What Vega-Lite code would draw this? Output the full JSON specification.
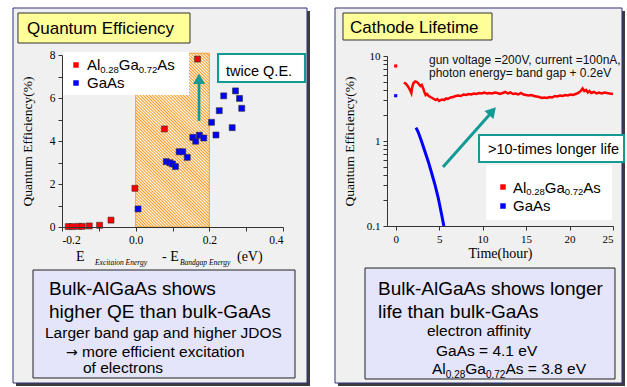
{
"$schema":"https://vega.github.io/schema/vega-lite/v6.json",
"width":627,"height":387,"autosize":{"type":"none"},"padding":0,"background":"white",
"config":{"view":{"stroke":null},
 "axis":{"grid":false,"labelFont":"Liberation Serif","titleFont":"Liberation Serif","titleFontWeight":"normal","titleFontSize":13.5,"labelFontSize":11,"labelColor":"#000","titleColor":"#000","domainColor":"#333","tickColor":"#333","tickSize":4,"labelPadding":3,"labelOverlap":false}},
"layer":[
{
 "encoding":{
  "x":{"field":"x","type":"quantitative","scale":{"domain":[-0.2,0.4],"range":[62,283],"nice":false,"zero":false},
   "axis":{"orient":"bottom","offset":-160,"zindex":1,"values":[-0.2,-0.1,0,0.1,0.2,0.3,0.4],"labelExpr":"abs(round(datum.value*10))%2==0 ? replace(format(datum.value,'.1f'),'\u2212','-') : ''","title":null,"labelFontSize":11.5}},
  "y":{"field":"y","type":"quantitative","scale":{"domain":[0,8],"range":[227,55],"nice":false,"zero":false},
   "axis":{"orient":"left","offset":-62,"zindex":1,"values":[0,1,2,3,4,5,6,7,8],"labelExpr":"datum.value%2==0 ? datum.label : ''","title":"Quantum Efficiency(%)","titlePadding":15,"labelFontSize":11.5}}
 },
 "layer":[
  {"data":{"values":[{"x":-0.3249,"x2":0.4733,"y":10.047,"y2":-7.395}]},"mark":{"type":"rect","fill":"#3c3c3c"},"encoding":{"x2":{"field":"x2"},"y2":{"field":"y2"}}},
  {"data":{"values":[{"x":-0.333,"x2":0.4652,"y":10.186,"y2":-7.256}]},"mark":{"type":"rect","fill":"#f0f0f0","stroke":"#33337a","strokeWidth":1},"encoding":{"x2":{"field":"x2"},"y2":{"field":"y2"}}},
  {"data":{"values":[{"x":-0.3195,"x2":0.1475,"y":9.953,"y2":8.558}]},"mark":{"type":"rect","fill":"#ffff99","stroke":"#333","strokeWidth":1},"encoding":{"x2":{"field":"x2"},"y2":{"field":"y2"}}},
  {"data":{"values":[{"x":-0.295,"y":8.977,"t":"Quantum Efficiency"}]},"mark":{"type":"text","align":"left","baseline":"alphabetic","font":"Liberation Sans","fontSize":17,"color":"#000"},"encoding":{"text":{"field":"t"}}},
  {"data":{"values":[{"x":0,"x2":0.2,"y":0,"y2":8.08}]},"mark":{"type":"rect","stroke":"#f5a030","strokeWidth":1,
    "fill":{"gradient":"linear","x1":0,"y1":1,"x2":0.512,"y2":-0.207,"stops":[
{"offset":0,"color":"#f59a22"},{"offset":0.00625,"color":"#fff"},{"offset":0.0125,"color":"#f59a22"},{"offset":0.01875,"color":"#fff"},{"offset":0.025,"color":"#f59a22"},{"offset":0.03125,"color":"#fff"},{"offset":0.0375,"color":"#f59a22"},{"offset":0.04375,"color":"#fff"},
{"offset":0.05,"color":"#f59a22"},{"offset":0.05625,"color":"#fff"},{"offset":0.0625,"color":"#f59a22"},{"offset":0.06875,"color":"#fff"},{"offset":0.075,"color":"#f59a22"},{"offset":0.08125,"color":"#fff"},{"offset":0.0875,"color":"#f59a22"},{"offset":0.09375,"color":"#fff"},
{"offset":0.1,"color":"#f59a22"},{"offset":0.10625,"color":"#fff"},{"offset":0.1125,"color":"#f59a22"},{"offset":0.11875,"color":"#fff"},{"offset":0.125,"color":"#f59a22"},{"offset":0.13125,"color":"#fff"},{"offset":0.1375,"color":"#f59a22"},{"offset":0.14375,"color":"#fff"},
{"offset":0.15,"color":"#f59a22"},{"offset":0.15625,"color":"#fff"},{"offset":0.1625,"color":"#f59a22"},{"offset":0.16875,"color":"#fff"},{"offset":0.175,"color":"#f59a22"},{"offset":0.18125,"color":"#fff"},{"offset":0.1875,"color":"#f59a22"},{"offset":0.19375,"color":"#fff"},
{"offset":0.2,"color":"#f59a22"},{"offset":0.20625,"color":"#fff"},{"offset":0.2125,"color":"#f59a22"},{"offset":0.21875,"color":"#fff"},{"offset":0.225,"color":"#f59a22"},{"offset":0.23125,"color":"#fff"},{"offset":0.2375,"color":"#f59a22"},{"offset":0.24375,"color":"#fff"},
{"offset":0.25,"color":"#f59a22"},{"offset":0.25625,"color":"#fff"},{"offset":0.2625,"color":"#f59a22"},{"offset":0.26875,"color":"#fff"},{"offset":0.275,"color":"#f59a22"},{"offset":0.28125,"color":"#fff"},{"offset":0.2875,"color":"#f59a22"},{"offset":0.29375,"color":"#fff"},
{"offset":0.3,"color":"#f59a22"},{"offset":0.30625,"color":"#fff"},{"offset":0.3125,"color":"#f59a22"},{"offset":0.31875,"color":"#fff"},{"offset":0.325,"color":"#f59a22"},{"offset":0.33125,"color":"#fff"},{"offset":0.3375,"color":"#f59a22"},{"offset":0.34375,"color":"#fff"},
{"offset":0.35,"color":"#f59a22"},{"offset":0.35625,"color":"#fff"},{"offset":0.3625,"color":"#f59a22"},{"offset":0.36875,"color":"#fff"},{"offset":0.375,"color":"#f59a22"},{"offset":0.38125,"color":"#fff"},{"offset":0.3875,"color":"#f59a22"},{"offset":0.39375,"color":"#fff"},
{"offset":0.4,"color":"#f59a22"},{"offset":0.40625,"color":"#fff"},{"offset":0.4125,"color":"#f59a22"},{"offset":0.41875,"color":"#fff"},{"offset":0.425,"color":"#f59a22"},{"offset":0.43125,"color":"#fff"},{"offset":0.4375,"color":"#f59a22"},{"offset":0.44375,"color":"#fff"},
{"offset":0.45,"color":"#f59a22"},{"offset":0.45625,"color":"#fff"},{"offset":0.4625,"color":"#f59a22"},{"offset":0.46875,"color":"#fff"},{"offset":0.475,"color":"#f59a22"},{"offset":0.48125,"color":"#fff"},{"offset":0.4875,"color":"#f59a22"},{"offset":0.49375,"color":"#fff"},
{"offset":0.5,"color":"#f59a22"},{"offset":0.50625,"color":"#fff"},{"offset":0.5125,"color":"#f59a22"},{"offset":0.51875,"color":"#fff"},{"offset":0.525,"color":"#f59a22"},{"offset":0.53125,"color":"#fff"},{"offset":0.5375,"color":"#f59a22"},{"offset":0.54375,"color":"#fff"},
{"offset":0.55,"color":"#f59a22"},{"offset":0.55625,"color":"#fff"},{"offset":0.5625,"color":"#f59a22"},{"offset":0.56875,"color":"#fff"},{"offset":0.575,"color":"#f59a22"},{"offset":0.58125,"color":"#fff"},{"offset":0.5875,"color":"#f59a22"},{"offset":0.59375,"color":"#fff"},
{"offset":0.6,"color":"#f59a22"},{"offset":0.60625,"color":"#fff"},{"offset":0.6125,"color":"#f59a22"},{"offset":0.61875,"color":"#fff"},{"offset":0.625,"color":"#f59a22"},{"offset":0.63125,"color":"#fff"},{"offset":0.6375,"color":"#f59a22"},{"offset":0.64375,"color":"#fff"},
{"offset":0.65,"color":"#f59a22"},{"offset":0.65625,"color":"#fff"},{"offset":0.6625,"color":"#f59a22"},{"offset":0.66875,"color":"#fff"},{"offset":0.675,"color":"#f59a22"},{"offset":0.68125,"color":"#fff"},{"offset":0.6875,"color":"#f59a22"},{"offset":0.69375,"color":"#fff"},
{"offset":0.7,"color":"#f59a22"},{"offset":0.70625,"color":"#fff"},{"offset":0.7125,"color":"#f59a22"},{"offset":0.71875,"color":"#fff"},{"offset":0.725,"color":"#f59a22"},{"offset":0.73125,"color":"#fff"},{"offset":0.7375,"color":"#f59a22"},{"offset":0.74375,"color":"#fff"},
{"offset":0.75,"color":"#f59a22"},{"offset":0.75625,"color":"#fff"},{"offset":0.7625,"color":"#f59a22"},{"offset":0.76875,"color":"#fff"},{"offset":0.775,"color":"#f59a22"},{"offset":0.78125,"color":"#fff"},{"offset":0.7875,"color":"#f59a22"},{"offset":0.79375,"color":"#fff"},
{"offset":0.8,"color":"#f59a22"},{"offset":0.80625,"color":"#fff"},{"offset":0.8125,"color":"#f59a22"},{"offset":0.81875,"color":"#fff"},{"offset":0.825,"color":"#f59a22"},{"offset":0.83125,"color":"#fff"},{"offset":0.8375,"color":"#f59a22"},{"offset":0.84375,"color":"#fff"},
{"offset":0.85,"color":"#f59a22"},{"offset":0.85625,"color":"#fff"},{"offset":0.8625,"color":"#f59a22"},{"offset":0.86875,"color":"#fff"},{"offset":0.875,"color":"#f59a22"},{"offset":0.88125,"color":"#fff"},{"offset":0.8875,"color":"#f59a22"},{"offset":0.89375,"color":"#fff"},
{"offset":0.9,"color":"#f59a22"},{"offset":0.90625,"color":"#fff"},{"offset":0.9125,"color":"#f59a22"},{"offset":0.91875,"color":"#fff"},{"offset":0.925,"color":"#f59a22"},{"offset":0.93125,"color":"#fff"},{"offset":0.9375,"color":"#f59a22"},{"offset":0.94375,"color":"#fff"},
{"offset":0.95,"color":"#f59a22"},{"offset":0.95625,"color":"#fff"},{"offset":0.9625,"color":"#f59a22"},{"offset":0.96875,"color":"#fff"},{"offset":0.975,"color":"#f59a22"},{"offset":0.98125,"color":"#fff"},{"offset":0.9875,"color":"#f59a22"},{"offset":0.99375,"color":"#fff"},
{"offset":1,"color":"#f59a22"}]}},
   "encoding":{"x2":{"field":"x2"},"y2":{"field":"y2"}}},
  {"data":{"values":[
   {"x":-0.183,"y":0.02,"s":"AlGaAs"},{"x":-0.172,"y":0.02,"s":"AlGaAs"},{"x":-0.155,"y":0.03,"s":"AlGaAs"},{"x":-0.145,"y":0.03,"s":"AlGaAs"},{"x":-0.126,"y":0.05,"s":"AlGaAs"},{"x":-0.098,"y":0.08,"s":"AlGaAs"},{"x":-0.067,"y":0.32,"s":"AlGaAs"},{"x":-0.002,"y":1.8,"s":"AlGaAs"},{"x":0.078,"y":4.56,"s":"AlGaAs"},{"x":0.168,"y":7.81,"s":"AlGaAs"},
   {"x":0.0065,"y":0.84,"s":"GaAs"},{"x":0.083,"y":3.04,"s":"GaAs"},{"x":0.093,"y":2.99,"s":"GaAs"},{"x":0.1,"y":2.93,"s":"GaAs"},{"x":0.108,"y":2.81,"s":"GaAs"},{"x":0.118,"y":3.5,"s":"GaAs"},{"x":0.128,"y":3.5,"s":"GaAs"},{"x":0.14,"y":3.24,"s":"GaAs"},{"x":0.155,"y":4.17,"s":"GaAs"},{"x":0.163,"y":3.99,"s":"GaAs"},{"x":0.173,"y":4.27,"s":"GaAs"},{"x":0.185,"y":4.14,"s":"GaAs"},{"x":0.206,"y":4.87,"s":"GaAs"},{"x":0.218,"y":4.28,"s":"GaAs"},{"x":0.227,"y":5.41,"s":"GaAs"},{"x":0.239,"y":6.1,"s":"GaAs"},{"x":0.262,"y":4.62,"s":"GaAs"},{"x":0.271,"y":6.33,"s":"GaAs"},{"x":0.282,"y":5.98,"s":"GaAs"},{"x":0.288,"y":5.52,"s":"GaAs"}]},
   "mark":{"type":"point","shape":"square","filled":true,"size":36,"opacity":1,"stroke":"#333","strokeWidth":0.6},
   "encoding":{"color":{"field":"s","type":"nominal","scale":{"domain":["AlGaAs","GaAs"],"range":["#ff0000","#0000ff"]},"legend":null}}},
  {"data":{"values":[{"x":-0.1973,"x2":0.1448,"y":8.14,"y2":6.14}]},"mark":{"type":"rect","fill":"#ffffff"},"encoding":{"x2":{"field":"x2"},"y2":{"field":"y2"}}},
  {"data":{"values":[{"x":-0.162,"y":7.535,"s":"AlGaAs"},{"x":-0.162,"y":6.698,"s":"GaAs"}]},"mark":{"type":"point","shape":"square","filled":true,"size":30,"opacity":1},
   "encoding":{"color":{"field":"s","type":"nominal","legend":null}}},
  {"data":{"values":[{"x":-0.1321,"y":7.302,"t":"Al"},{"x":-0.1321,"y":6.451,"t":"GaAs"}]},"mark":{"type":"text","align":"left","baseline":"alphabetic","font":"Liberation Sans","fontSize":15,"color":"#000"},"encoding":{"text":{"field":"t"}}},
  {"data":{"values":[{"x":-0.1321,"y":7.302,"t":"0.28"}]},"mark":{"type":"text","align":"left","baseline":"alphabetic","font":"Liberation Sans","fontSize":9.5,"dx":13.3,"dy":3,"color":"#000"},"encoding":{"text":{"field":"t"}}},
  {"data":{"values":[{"x":-0.1321,"y":7.302,"t":"Ga"}]},"mark":{"type":"text","align":"left","baseline":"alphabetic","font":"Liberation Sans","fontSize":15,"dx":31.8,"color":"#000"},"encoding":{"text":{"field":"t"}}},
  {"data":{"values":[{"x":-0.1321,"y":7.302,"t":"0.72"}]},"mark":{"type":"text","align":"left","baseline":"alphabetic","font":"Liberation Sans","fontSize":9.5,"dx":51.8,"dy":3,"color":"#000"},"encoding":{"text":{"field":"t"}}},
  {"data":{"values":[{"x":-0.1321,"y":7.302,"t":"As"}]},"mark":{"type":"text","align":"left","baseline":"alphabetic","font":"Liberation Sans","fontSize":15,"dx":70.3,"color":"#000"},"encoding":{"text":{"field":"t"}}},
  {"data":{"values":[{"x":0.172,"y":4.93,"y2":6.744}]},"mark":{"type":"rule","color":"#139a94","strokeWidth":2.7},"encoding":{"y2":{"field":"y2"}}},
  {"data":{"values":[{"x":0.172,"y":6.888}]},"mark":{"type":"point","shape":"triangle-up","filled":true,"size":144,"color":"#139a94","opacity":1},"encoding":{}},
  {"data":{"values":[{"x":0.2235,"x2":0.4597,"y":8.047,"y2":6.744}]},"mark":{"type":"rect","fill":"#ffffff","stroke":"#139a94","strokeWidth":2},"encoding":{"x2":{"field":"x2"},"y2":{"field":"y2"}}},
  {"data":{"values":[{"x":0.2453,"y":7.023,"t":"twice Q.E."}]},"mark":{"type":"text","align":"left","baseline":"alphabetic","font":"Liberation Sans","fontSize":14.5,"color":"#000"},"encoding":{"text":{"field":"t"}}},
  {"data":{"values":[{"x":-0.162,"y":-1.581,"t":"E"}]},"mark":{"type":"text","align":"left","baseline":"alphabetic","font":"Liberation Serif","fontSize":14,"color":"#000"},"encoding":{"text":{"field":"t"}}},
  {"data":{"values":[{"x":-0.162,"y":-1.581,"t":"Excitaion Energy"}]},"mark":{"type":"text","align":"left","baseline":"alphabetic","font":"Liberation Serif","fontStyle":"italic","fontSize":7.5,"dx":19,"dy":4,"color":"#000"},"encoding":{"text":{"field":"t"}}},
  {"data":{"values":[{"x":-0.162,"y":-1.581,"t":"- E"}]},"mark":{"type":"text","align":"left","baseline":"alphabetic","font":"Liberation Serif","fontSize":14,"dx":86,"color":"#000"},"encoding":{"text":{"field":"t"}}},
  {"data":{"values":[{"x":-0.162,"y":-1.581,"t":"Bandgap Energy"}]},"mark":{"type":"text","align":"left","baseline":"alphabetic","font":"Liberation Serif","fontStyle":"italic","fontSize":7.5,"dx":104,"dy":4,"color":"#000"},"encoding":{"text":{"field":"t"}}},
  {"data":{"values":[{"x":-0.162,"y":-1.581,"t":"(eV)"}]},"mark":{"type":"text","align":"left","baseline":"alphabetic","font":"Liberation Serif","fontSize":14,"dx":161,"color":"#000"},"encoding":{"text":{"field":"t"}}},
  {"data":{"values":[{"x":-0.2787,"x2":0.4326,"y":-2.0,"y2":-7.023}]},"mark":{"type":"rect","fill":"#e4e4fa","stroke":"#222","strokeWidth":1},"encoding":{"x2":{"field":"x2"},"y2":{"field":"y2"}}},
  {"data":{"values":[{"x":-0.2353,"y":-3.163,"t":"Bulk-AlGaAs shows"},{"x":-0.2353,"y":-4.233,"t":"higher QE than bulk-GaAs"}]},"mark":{"type":"text","align":"left","baseline":"alphabetic","font":"Liberation Sans","fontSize":19,"color":"#000"},"encoding":{"text":{"field":"t"}}},
  {"data":{"values":[{"x":-0.2462,"y":-5.163,"t":"Larger band gap and higher JDOS"},{"x":-0.143,"y":-6.791,"t":"of electrons"}]},"mark":{"type":"text","align":"left","baseline":"alphabetic","font":"Liberation Sans","fontSize":15.5,"color":"#000"},"encoding":{"text":{"field":"t"}}},
  {"data":{"values":[{"x":-0.1891,"y":-6.033,"t":"→"}]},"mark":{"type":"text","align":"left","baseline":"alphabetic","font":"DejaVu Sans","fontSize":14,"color":"#000"},"encoding":{"text":{"field":"t"}}},
  {"data":{"values":[{"x":-0.1891,"y":-6.033,"t":"more efficient excitation"}]},"mark":{"type":"text","align":"left","baseline":"alphabetic","font":"Liberation Sans","fontSize":15.5,"dx":16,"color":"#000"},"encoding":{"text":{"field":"t"}}}
 ]
},
{
 "encoding":{
  "x":{"field":"x","type":"quantitative","scale":{"domain":[-1,25],"range":[387,613],"nice":false,"zero":false},
   "axis":{"orient":"bottom","offset":-161,"zindex":1,"values":[0,5,10,15,20,25],"format":"d","title":"Time(hour)","titlePadding":2,"titleFontSize":14}},
  "y":{"field":"y","type":"quantitative","scale":{"type":"log","domain":[0.1,10],"range":[226,56],"nice":false},
   "axis":{"orient":"left","offset":-387,"zindex":1,"values":[0.1,0.2,0.3,0.4,0.5,0.6,0.7,0.8,0.9,1,2,3,4,5,6,7,8,9,10],"labelExpr":"datum.value==0.1 ? '0.1' : datum.value==1 ? '1' : datum.value==10 ? '10' : ''","title":"Quantum Efficiency(%)","titlePadding":10}}
 },
 "layer":[
  {"data":{"values":[{"x":-6.637,"x2":26.38,"y":33.83,"y2":0.001311}]},"mark":{"type":"rect","fill":"#3c3c3c"},"encoding":{"x2":{"field":"x2"},"y2":{"field":"y2"}}},
  {"data":{"values":[{"x":-6.982,"x2":26.035,"y":36.71,"y2":0.001422}]},"mark":{"type":"rect","fill":"#f0f0f0","stroke":"#33337a","strokeWidth":1},"encoding":{"x2":{"field":"x2"},"y2":{"field":"y2"}}},
  {"data":{"values":[{"x":-6.062,"x2":11.08,"y":32.05,"y2":15.43}]},"mark":{"type":"rect","fill":"#ffff99","stroke":"#333","strokeWidth":1},"encoding":{"x2":{"field":"x2"},"y2":{"field":"y2"}}},
  {"data":{"values":[{"x":-5.257,"y":18.5,"t":"Cathode Lifetime"}]},"mark":{"type":"text","align":"left","baseline":"alphabetic","font":"Liberation Sans","fontSize":17,"color":"#000"},"encoding":{"text":{"field":"t"}}},
  {"data":{"values":[
   {"x":0.95,"y":4.878},{"x":1.2,"y":4.684},{"x":1.45,"y":4.319},{"x":1.65,"y":3.981},{"x":1.8,"y":3.671},{"x":1.9,"y":4.319},{"x":2.05,"y":4.812},{"x":2.25,"y":5.012},{"x":2.45,"y":4.945},{"x":2.65,"y":4.684},{"x":2.85,"y":4.437},{"x":3.0,"y":4.559},{"x":3.15,"y":4.204},{"x":3.3,"y":3.771},{"x":3.45,"y":3.478},{"x":3.6,"y":3.573},{"x":3.8,"y":3.385},{"x":4.0,"y":3.295},{"x":4.2,"y":3.207},{"x":4.4,"y":3.12},{"x":4.6,"y":3.036},{"x":4.8,"y":3.12},{"x":5.0,"y":2.955},{"x":5.2,"y":3.036},{"x":5.4,"y":3.078},{"x":5.6,"y":3.036},{"x":5.8,"y":3.162},{"x":6.0,"y":3.12},{"x":6.3,"y":3.25},{"x":6.6,"y":3.295},{"x":6.9,"y":3.385},{"x":7.2,"y":3.431},{"x":7.5,"y":3.385},{"x":7.8,"y":3.525},{"x":8.1,"y":3.478},{"x":8.4,"y":3.573},{"x":8.7,"y":3.525},{"x":9.0,"y":3.622},{"x":9.3,"y":3.573},{"x":9.6,"y":3.671},{"x":9.9,"y":3.622},{"x":10.2,"y":3.721},{"x":10.5,"y":3.622},{"x":10.8,"y":3.671},{"x":11.1,"y":3.622},{"x":11.4,"y":3.721},{"x":11.7,"y":3.671},{"x":12.0,"y":3.573},{"x":12.3,"y":3.671},{"x":12.6,"y":3.771},{"x":12.9,"y":3.622},{"x":13.2,"y":3.721},{"x":13.5,"y":3.573},{"x":13.8,"y":3.622},{"x":14.1,"y":3.525},{"x":14.4,"y":3.671},{"x":14.7,"y":3.525},{"x":15.0,"y":3.478},{"x":15.3,"y":3.431},{"x":15.6,"y":3.478},{"x":15.9,"y":3.385},{"x":16.2,"y":3.34},{"x":16.5,"y":3.295},{"x":16.8,"y":3.207},{"x":17.1,"y":3.25},{"x":17.4,"y":3.207},{"x":17.7,"y":3.295},{"x":18.0,"y":3.25},{"x":18.3,"y":3.385},{"x":18.6,"y":3.34},{"x":18.9,"y":3.431},{"x":19.2,"y":3.385},{"x":19.5,"y":3.478},{"x":19.8,"y":3.431},{"x":20.1,"y":3.525},{"x":20.4,"y":3.478},{"x":20.7,"y":3.573},{"x":21.0,"y":3.671},{"x":21.3,"y":3.875},{"x":21.5,"y":4.147},{"x":21.7,"y":3.875},{"x":21.9,"y":3.981},{"x":22.1,"y":3.721},{"x":22.3,"y":3.875},{"x":22.5,"y":3.671},{"x":22.8,"y":3.771},{"x":23.1,"y":3.622},{"x":23.4,"y":3.721},{"x":23.7,"y":3.622},{"x":24.0,"y":3.721},{"x":24.3,"y":3.671},{"x":24.6,"y":3.622},{"x":25.0,"y":3.573}]},
   "mark":{"type":"line","color":"#ff0000","strokeWidth":2.5},"encoding":{}},
  {"data":{"values":[{"x":2.336,"y":1.434},{"x":2.6,"y":1.266},{"x":2.99,"y":0.981},{"x":3.372,"y":0.748},{"x":3.752,"y":0.571},{"x":4.142,"y":0.417},{"x":4.522,"y":0.304},{"x":4.902,"y":0.212},{"x":5.293,"y":0.1347},{"x":5.54,"y":0.1}]},
   "mark":{"type":"line","color":"#0000ff","strokeWidth":3},"encoding":{}},
  {"data":{"values":[{"x":0,"y":7.63,"s":"AlGaAs"},{"x":0,"y":3.41,"s":"GaAs"}]},"mark":{"type":"point","shape":"square","filled":true,"size":10,"opacity":1},
   "encoding":{"color":{"field":"s","type":"nominal","legend":null}}},
  {"data":{"values":[{"x":3.832,"y":7.988,"t":"gun voltage =200V, current =100nA,"},{"x":3.832,"y":5.616,"t":"photon energy= band gap + 0.2eV"}]},"mark":{"type":"text","align":"left","baseline":"alphabetic","font":"Liberation Sans","fontSize":12,"color":"#111"},"encoding":{"text":{"field":"t"}}},
  {"data":{"values":[{"x":5.442,"y":0.4944,"x2":10.965,"y2":2.135}]},"mark":{"type":"rule","color":"#139a94","strokeWidth":3},"encoding":{"x2":{"field":"x2"},"y2":{"field":"y2"}}},
  {"data":{"values":[{"x":11.126,"y":2.242}]},"mark":{"type":"point","shape":"triangle-up","filled":true,"size":144,"angle":41.5,"color":"#139a94","opacity":1},"encoding":{}},
  {"data":{"values":[{"x":9.584,"x2":26.266,"y":1.1766,"y2":0.566}]},"mark":{"type":"rect","fill":"#ffffff","stroke":"#139a94","strokeWidth":2},"encoding":{"x2":{"field":"x2"},"y2":{"field":"y2"}}},
  {"data":{"values":[{"x":10.62,"y":0.7034,"t":">10-times longer life"}]},"mark":{"type":"text","align":"left","baseline":"alphabetic","font":"Liberation Sans","fontSize":14.5,"color":"#000"},"encoding":{"text":{"field":"t"}}},
  {"data":{"values":[{"x":10.389,"x2":24.885,"y":0.522,"y2":0.1177}]},"mark":{"type":"rect","fill":"#ffffff"},"encoding":{"x2":{"field":"x2"},"y2":{"field":"y2"}}},
  {"data":{"values":[{"x":12.345,"y":0.2876,"s":"AlGaAs"},{"x":12.345,"y":0.1718,"s":"GaAs"}]},"mark":{"type":"point","shape":"square","filled":true,"size":30,"opacity":1},
   "encoding":{"color":{"field":"s","type":"nominal","legend":null}}},
  {"data":{"values":[{"x":13.496,"y":0.2464,"t":"Al"},{"x":13.496,"y":0.1501,"t":"GaAs"}]},"mark":{"type":"text","align":"left","baseline":"alphabetic","font":"Liberation Sans","fontSize":15,"color":"#000"},"encoding":{"text":{"field":"t"}}},
  {"data":{"values":[{"x":13.496,"y":0.2464,"t":"0.28"}]},"mark":{"type":"text","align":"left","baseline":"alphabetic","font":"Liberation Sans","fontSize":9.5,"dx":13.3,"dy":2,"color":"#000"},"encoding":{"text":{"field":"t"}}},
  {"data":{"values":[{"x":13.496,"y":0.2464,"t":"Ga"}]},"mark":{"type":"text","align":"left","baseline":"alphabetic","font":"Liberation Sans","fontSize":15,"dx":31.8,"color":"#000"},"encoding":{"text":{"field":"t"}}},
  {"data":{"values":[{"x":13.496,"y":0.2464,"t":"0.72"}]},"mark":{"type":"text","align":"left","baseline":"alphabetic","font":"Liberation Sans","fontSize":9.5,"dx":51.8,"dy":2,"color":"#000"},"encoding":{"text":{"field":"t"}}},
  {"data":{"values":[{"x":13.496,"y":0.2464,"t":"As"}]},"mark":{"type":"text","align":"left","baseline":"alphabetic","font":"Liberation Sans","fontSize":15,"dx":70.3,"color":"#000"},"encoding":{"text":{"field":"t"}}},
  {"data":{"values":[{"x":-3.531,"x2":25.23,"y":0.03204,"y2":0.001585}]},"mark":{"type":"rect","fill":"#e4e4fa","stroke":"#222","strokeWidth":1},"encoding":{"x2":{"field":"x2"},"y2":{"field":"y2"}}},
  {"data":{"values":[{"x":-2.035,"y":0.01543,"t":"Bulk-AlGaAs shows longer"},{"x":-2.035,"y":0.008206,"t":"life than bulk-GaAs"}]},"mark":{"type":"text","align":"left","baseline":"alphabetic","font":"Liberation Sans","fontSize":19,"color":"#000"},"encoding":{"text":{"field":"t"}}},
  {"data":{"values":[{"x":3.602,"y":0.005079,"t":"electron affinity"},{"x":4.637,"y":0.002979,"t":"GaAs = 4.1 eV"},{"x":4.177,"y":0.001815,"t":"Al"}]},"mark":{"type":"text","align":"left","baseline":"alphabetic","font":"Liberation Sans","fontSize":15.5,"color":"#000"},"encoding":{"text":{"field":"t"}}},
  {"data":{"values":[{"x":4.177,"y":0.001815,"t":"0.28"}]},"mark":{"type":"text","align":"left","baseline":"alphabetic","font":"Liberation Sans","fontSize":10,"dx":13.8,"dy":4,"color":"#000"},"encoding":{"text":{"field":"t"}}},
  {"data":{"values":[{"x":4.177,"y":0.001815,"t":"Ga"}]},"mark":{"type":"text","align":"left","baseline":"alphabetic","font":"Liberation Sans","fontSize":15.5,"dx":33.2,"color":"#000"},"encoding":{"text":{"field":"t"}}},
  {"data":{"values":[{"x":4.177,"y":0.001815,"t":"0.72"}]},"mark":{"type":"text","align":"left","baseline":"alphabetic","font":"Liberation Sans","fontSize":10,"dx":53.9,"dy":4,"color":"#000"},"encoding":{"text":{"field":"t"}}},
  {"data":{"values":[{"x":4.177,"y":0.001815,"t":"As = 3.8 eV"}]},"mark":{"type":"text","align":"left","baseline":"alphabetic","font":"Liberation Sans","fontSize":15.5,"dx":73.4,"color":"#000"},"encoding":{"text":{"field":"t"}}}
 ]
}
],
"resolve":{"scale":{"x":"independent","y":"independent"},"axis":{"x":"independent","y":"independent"}}
}
